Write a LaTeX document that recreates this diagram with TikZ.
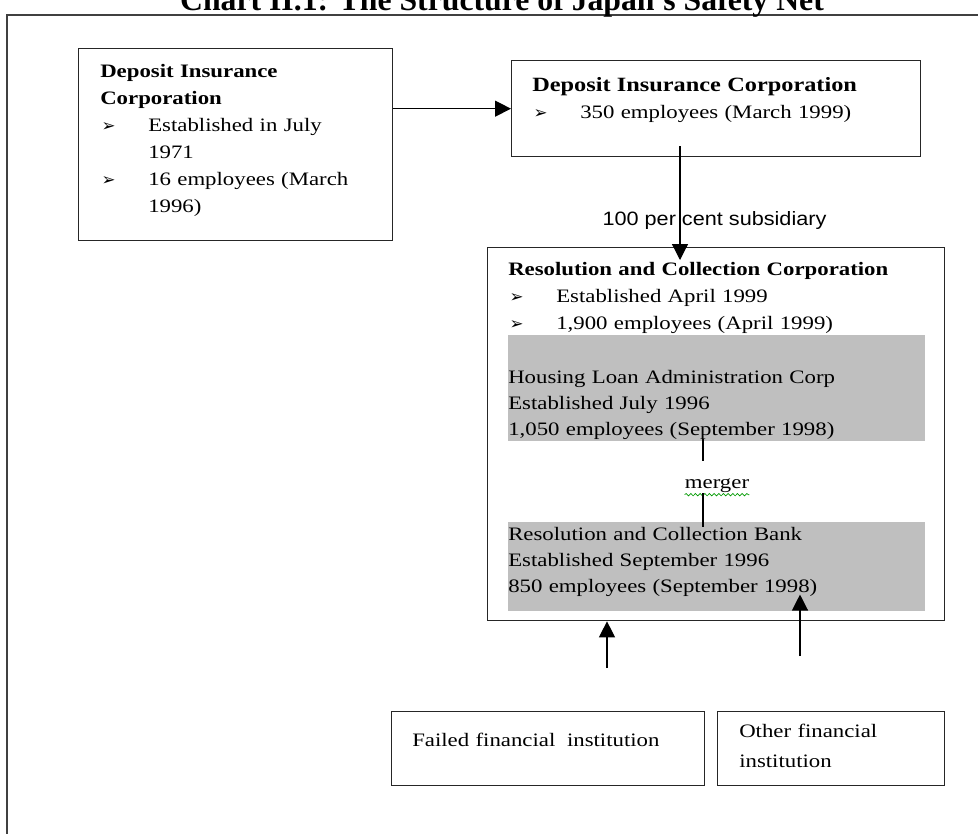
\documentclass[tikz,border=0pt]{standalone}
\usepackage{fontspec}
\setmainfont{Liberation Serif}[FakeStretch=1.2]
\newfontfamily\titlefont{Liberation Serif}
\newfontfamily\labelfont{Liberation Sans}[FakeStretch=1.12]
\newfontfamily\dingfont{DejaVu Sans}
\usetikzlibrary{arrows.meta,decorations.pathmorphing}
\newcommand\bul{\makebox[36pt][l]{\hspace{1pt}{\dingfont\fontsize{12.5}{12}\selectfont ➢}}}
\newcommand\hang{\hspace*{36pt}}
\begin{document}
\begin{tikzpicture}[x=0.75pt,y=-0.75pt,
  box/.style={draw=black!85, line width=1pt, anchor=north west, inner sep=0pt},
  grey/.style={fill=black!25, anchor=north west, inner sep=0pt},
  txt/.style={anchor=base west, inner sep=0pt, align=left, text width=#1, font=\fontsize{14.25}{20.25}\selectfont},
  conn/.style={line width=0.9pt},
  arr/.style={line width=0.9pt, -{Triangle[length=12pt,width=12pt]}}]
\useasboundingbox (0,0) rectangle (978,833);
\draw[line width=1.5pt, black!75] (7,870) |- (1000,15);
\node[font=\titlefont\bfseries\fontsize{23.8}{28}\selectfont, anchor=base, inner sep=0pt] (title) at (502,10) {Chart II.1: The Structure of Japan's Safety Net};

\node[box, minimum width=235.5pt, minimum height=144pt] (dicold) at (78,48) {};
\node[txt=220pt] (dicoldtxt) at (100,77) {\textbf{Deposit Insurance}\\\textbf{Corporation}\\\bul Established in July\\\hang 1971\\\bul 16 employees (March\\\hang 1996)};

\node[box, minimum width=306.75pt, minimum height=72pt] (dicnew) at (511,60) {};
\node[txt=290pt] (dicnewtxt) at (532,91) {{\fontsize{15.2}{20}\selectfont\textbf{Deposit Insurance Corporation}}\\\bul 350 employees (March 1999)};

\node[box, minimum width=342.75pt, minimum height=279.75pt] (rcc) at (487,247) {};
\node[grey, minimum width=312.75pt, minimum height=79.5pt] (hlac) at (508,335) {};
\node[grey, minimum width=312.75pt, minimum height=66.75pt] (rcb) at (508,522) {};
\node[txt=330pt] (rcctxt) at (508,275) {\textbf{Resolution and Collection Corporation}\\\bul Established April 1999\\\bul 1,900 employees (April 1999)};
\node[txt=310pt, font=\fontsize{14.25}{19.5}\selectfont] (hlactxt) at (508,383) {Housing Loan Administration Corp\\Established July 1996\\1,050 employees (September 1998)};
\node[txt=310pt, font=\fontsize{14.25}{19.8}\selectfont] (rcbtxt) at (508,540) {Resolution and Collection Bank\\Established September 1996\\850 employees (September 1998)};

\node[box, minimum width=234.75pt, minimum height=55.5pt] (ffi) at (391,711) {};
\node[txt=220pt] (ffitxt) at (412,746) {Failed financial\hspace{4pt} institution};
\node[box, minimum width=170.25pt, minimum height=55.5pt] (ofi) at (717,711) {};
\node[txt=160pt, font=\fontsize{14.25}{22.5}\selectfont] (ofitxt) at (739,737) {Other financial\\institution};

\draw[arr] (dicold.east |- dicnew.west) -- (dicnew.west);

\coordinate (subx) at (680,0);
\node[font=\labelfont\fontsize{14.5}{16}\selectfont, anchor=base, inner sep=0pt] (sublbl) at (714.5,225) {100 per cent subsidiary};
\draw[arr, shorten <=-8.25pt, shorten >=-9.75pt] (dicnew.south -| subx) -- (rcc.north -| subx);

\coordinate (mx) at (703,0);
\node[font=\fontsize{14.25}{20}\selectfont, inner sep=0pt, text height=20.25pt, text depth=3.75pt, anchor=base] (merge) at (717,488) {merger};
\draw[green!60!black, line width=0.5pt, decorate, decoration={snake, amplitude=0.9pt, segment length=3.5pt}] ([yshift=-5pt]merge.base west) -- ([yshift=-5pt]merge.base east);
\draw[conn, shorten <=-2pt] (hlac.south -| mx) -- (merge.north -| mx);
\draw[conn, shorten >=-3.75pt] (merge.south -| mx) -- (rcb.north -| mx);

\coordinate (ffitail) at (607,668);
\coordinate (ofitail) at (800,656);
\draw[arr] (ffitail) -- (rcc.south -| ffitail);
\draw[arr, shorten >=-12.75pt] (ofitail) -- (rcb.south -| ofitail);
\end{tikzpicture}
\end{document}
